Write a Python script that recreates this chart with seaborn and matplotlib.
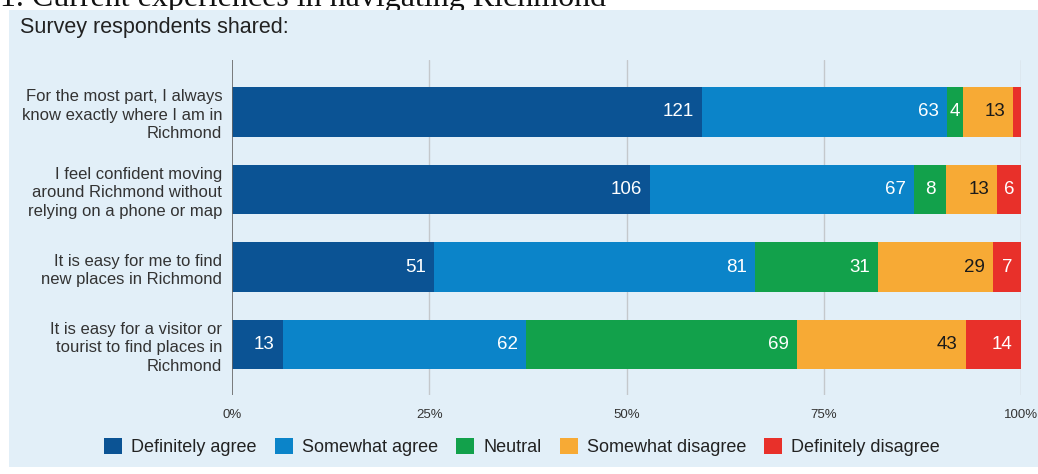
import matplotlib
matplotlib.use("Agg")
import matplotlib.pyplot as plt
import seaborn as sns
import pandas as pd
import numpy as np
from matplotlib.patches import Rectangle, Patch

# --- datos ---
statements = [
    "For the most part, I always\nknow exactly where I am in\nRichmond",
    "I feel confident moving\naround Richmond without\nrelying on a phone or map",
    "It is easy for me to find\nnew places in Richmond",
    "It is easy for a visitor or\ntourist to find places in\nRichmond",
]
responses = ["Definitely agree", "Somewhat agree", "Neutral",
             "Somewhat disagree", "Definitely disagree"]
definitely_agree = [121, 106, 51, 13]
somewhat_agree = [63, 67, 81, 62]
neutral = [4, 8, 31, 69]
somewhat_disagree = [13, 13, 29, 43]
definitely_disagree = [2, 6, 7, 14]
tick_labels = ["0%", "25%", "50%", "75%", "100%"]

COLORS = ["#0b5394", "#0b84c9", "#12a14b", "#f7aa35", "#e8302a"]
TEXT_COLORS = ["white", "white", "white", "#1a1a1a", "white"]
BG = "#e2eff8"

counts = pd.DataFrame(
    [definitely_agree, somewhat_agree, neutral, somewhat_disagree, definitely_disagree],
    index=responses, columns=statements).T
pct = counts.div(counts.sum(axis=1), axis=0) * 100
cum = pct.cumsum(axis=1)

# --- figura ---
sns.set_theme(style="white")
plt.rcParams['font.family'] = ['Liberation Sans', 'DejaVu Sans']

fig = plt.figure(figsize=(10.38, 4.74), dpi=100, facecolor="white")
fig.patches.append(Rectangle((9 / 1038, 7 / 474), 1 - 9 / 1038, 1 - 17 / 474,
                             transform=fig.transFigure, facecolor=BG,
                             edgecolor="none", zorder=-10))
fig.text(0.0, 1 - 6 / 474, "1. Current experiences in navigating Richmond",
         family="Liberation Serif", fontsize=23, va="baseline", ha="left",
         color="#111", zorder=-20)
fig.text(20 / 1038, 1 - 28 / 474, "Survey respondents shared:",
         fontsize=15.5, va="center", ha="left", color="#222")

ax = fig.add_axes([232 / 1038, 1 - 395 / 474, 789 / 1038, 335 / 474], zorder=2)
ax.set_facecolor("none")

# barras acumuladas, de la última a la primera
for i in range(len(responses) - 1, -1, -1):
    df_layer = pd.DataFrame({"stmt": statements, "val": cum.iloc[:, i].values})
    sns.barplot(data=df_layer, x="val", y="stmt", orient="h", color=COLORS[i],
                saturation=1, width=0.64, linewidth=0, ax=ax, zorder=3)

# etiquetas
for r, stmt in enumerate(statements):
    for i, resp in enumerate(responses):
        v = counts.loc[stmt, resp]
        p = pct.loc[stmt, resp]
        if p < 1.5:
            continue
        end = cum.loc[stmt, resp]
        if p < 5:
            ax.text(end - p / 2, r, str(v), ha="center", va="center",
                    color=TEXT_COLORS[i], fontsize=13.5, zorder=5)
        else:
            ax.annotate(str(v), xy=(end, r), xytext=(-6, 0), textcoords="offset points",
                        ha="right", va="center", color=TEXT_COLORS[i],
                        fontsize=13.5, zorder=5)

ax.set_xlim(0, 100)
ax.set_ylim(3.65, -0.67)
ax.set_xticks([0, 25, 50, 75, 100])
ax.set_xticklabels(tick_labels)
ax.tick_params(axis="x", length=0, pad=10, labelsize=9.5, colors="#333")
ax.tick_params(axis="y", length=0, pad=7, labelsize=12, colors="#333")
for lab in ax.get_yticklabels():
    lab.set_horizontalalignment("right")
    lab.set_linespacing(1.3)
ax.set_xlabel("")
ax.set_ylabel("")
for x in [25, 50, 75, 100]:
    ax.axvline(x, color="#c4c8cc", lw=1, zorder=1)
ax.axvline(0, color="#666", lw=1.2, zorder=4)
for s in ax.spines.values():
    s.set_visible(False)
ax.grid(False)

handles = [Patch(facecolor=c, edgecolor="none", label=l) for c, l in zip(COLORS, responses)]
fig.legend(handles=handles, loc="center", bbox_to_anchor=(0.503, 1 - 447 / 474),
           ncol=5, frameon=False, fontsize=13, handlelength=1.0, handleheight=1.0,
           handletextpad=0.5, columnspacing=1.0, labelcolor="#222")

fig.savefig("out.png", dpi=100, facecolor="white")
